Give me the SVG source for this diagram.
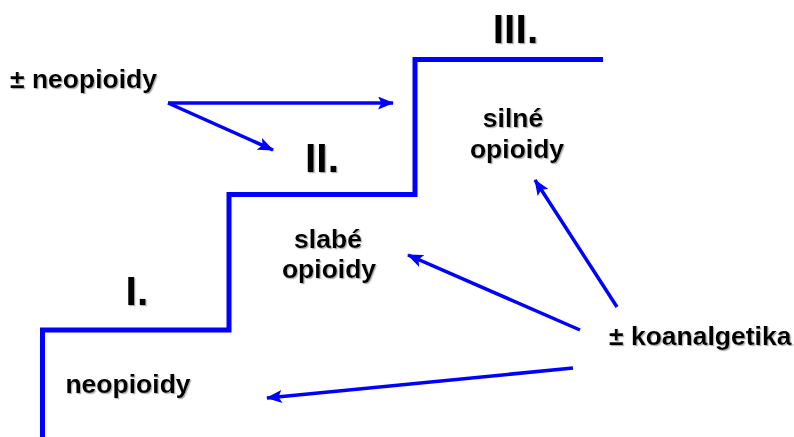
<svg xmlns="http://www.w3.org/2000/svg" width="794" height="437" viewBox="0 0 794 437">
<defs>
<marker id="ah" markerUnits="userSpaceOnUse" markerWidth="16" markerHeight="13" viewBox="0 0 16 13" refX="15" refY="6.5" orient="auto">
<path d="M0,0 L16,6.5 L0,13 L3.5,6.5 Z" fill="#0000FF"/>
</marker>
<filter id="sh" x="-10%" y="-10%" width="130%" height="140%">
<feDropShadow dx="1.2" dy="1.2" stdDeviation="0.5" flood-color="#909090" flood-opacity="0.7"/>
</filter>
</defs>
<style>
text{font-family:"Liberation Sans",Arial,sans-serif;font-weight:bold;fill:#000;filter:url(#sh)}
.lb{font-size:26.5px}
.rn{font-size:41px}
.stair{fill:none;stroke:#0000FF;stroke-width:5;stroke-linejoin:miter}
.ar{stroke:#0000FF;stroke-width:3.5;fill:none;marker-end:url(#ah)}
</style>
<rect width="794" height="437" fill="#fff"/>
<g id="stairs">
<path class="stair" d="M42.5,437 V330 H229 V194.5 H415 V59.5 H603"/>
</g>
<g id="step1">
<text class="rn" x="137" y="305" text-anchor="middle">I.</text>
<text class="lb" x="128" y="393" text-anchor="middle">neopioidy</text>
</g>
<g id="step2">
<text class="rn" x="322" y="172" text-anchor="middle">II.</text>
<text class="lb" x="328" y="248" text-anchor="middle">slabé</text>
<text class="lb" x="329" y="278" text-anchor="middle">opioidy</text>
</g>
<g id="step3">
<text class="rn" x="515.5" y="43" text-anchor="middle">III.</text>
<text class="lb" x="513" y="127" text-anchor="middle">silné</text>
<text class="lb" x="517" y="158" text-anchor="middle">opioidy</text>
</g>
<g id="neo">
<text class="lb" x="10" y="88">± neopioidy</text>
</g>
<g id="koan">
<text class="lb" x="609" y="345">± koanalgetika</text>
</g>
<g id="connectors">
<line class="ar" x1="168" y1="103" x2="393" y2="103"/>
<line class="ar" x1="168" y1="103" x2="273" y2="150"/>
<line class="ar" x1="617" y1="307" x2="535" y2="180"/>
<line class="ar" x1="580" y1="330" x2="408" y2="255"/>
<line class="ar" x1="573" y1="368" x2="267" y2="398"/>
</g>
</svg>
